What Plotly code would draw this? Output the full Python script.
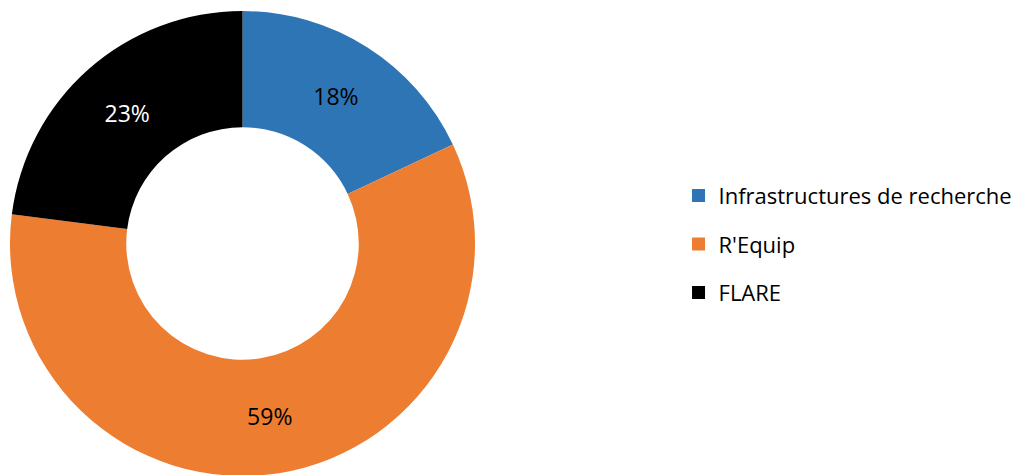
import plotly.graph_objects as go

labels = ['Infrastructures de recherche', "R'Equip", 'FLARE']
values = [18, 59, 23]
colors = ['#2E75B6', '#ED7D31', '#000000']
text_colors = ['#000000', '#000000', '#FFFFFF']

fig = go.Figure()

# donut
fig.add_trace(go.Pie(
    labels=labels,
    values=values,
    hole=0.5,
    sort=False,
    direction='clockwise',
    rotation=0,
    textinfo='percent',
    textposition='inside',
    insidetextorientation='horizontal',
    textfont=dict(family='Open Sans', size=23, color=text_colors),
    marker=dict(colors=colors, line=dict(width=0)),
    domain=dict(x=[1 / 1030, 468 / 1030], y=[7 / 475, 472 / 475]),
    showlegend=False,
    hoverinfo='label+percent',
))

# legend entries (separate groups so they can be spaced out)
for lab, col in zip(labels, colors):
    fig.add_trace(go.Scatter(
        x=[None], y=[None], mode='markers', name=lab, legendgroup=lab,
        marker=dict(symbol='square', size=13, color=col),
    ))

fig.update_layout(
    width=1030, height=475,
    margin=dict(l=0, r=0, t=0, b=0),
    paper_bgcolor='white', plot_bgcolor='white',
    xaxis=dict(visible=False), yaxis=dict(visible=False),
    legend=dict(
        x=0.651, y=0.503, xanchor='left', yanchor='middle',
        font=dict(family='Open Sans', size=22, color='#000000'),
        tracegroupgap=17, itemwidth=30,
    ),
)

fig.write_html('out.html')
